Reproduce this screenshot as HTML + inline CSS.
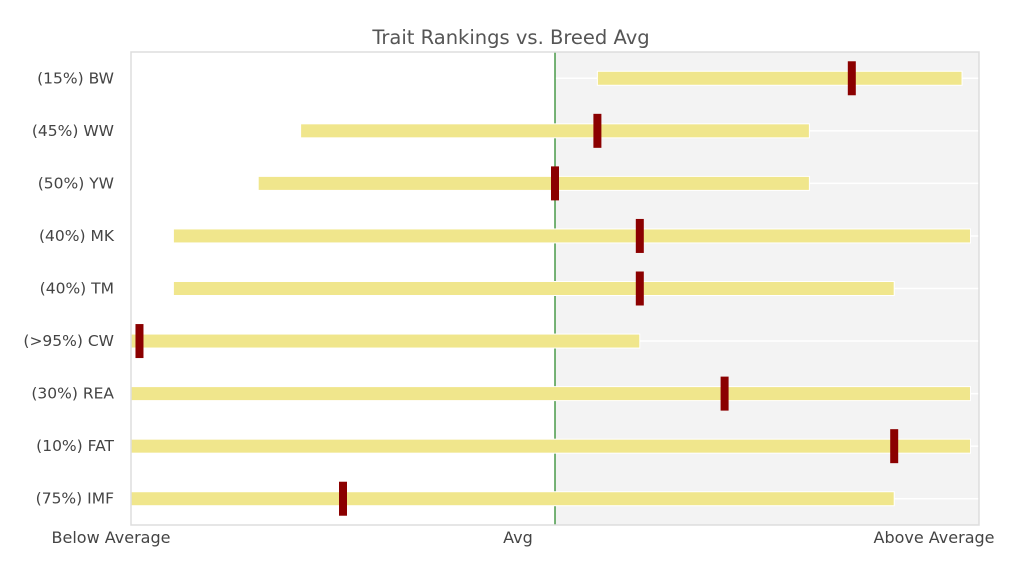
<!DOCTYPE html>
<html><head><meta charset="utf-8"><style>
body{margin:0;background:#fff;font-family:"DejaVu Sans","Liberation Sans",sans-serif;}
svg text{fill:#444;}
</style></head><body>
<svg width="1024" height="576" id="c">
<text x="511" y="44" font-size="19.5" text-anchor="middle" style="fill:#555">Trait Rankings vs. Breed Avg</text>
<rect x="131" y="52" width="424" height="473" fill="#fff"/>
<rect x="555" y="52" width="424" height="473" fill="#f3f3f3"/>
<g id="grid"></g>
<line x1="555" y1="52" x2="555" y2="525" stroke="#2e8b2e" stroke-width="1.3"/>
<g id="marks"></g>
<rect x="131" y="52" width="848" height="473" fill="none" stroke="#ddd" stroke-width="1.5"/>
<text x="111" y="543" font-size="16" text-anchor="middle">Below Average</text>
<text x="518" y="543" font-size="16" text-anchor="middle">Avg</text>
<text x="934" y="543" font-size="16" text-anchor="middle">Above Average</text>
</svg>
<script>
const categories=["(15%) BW","(45%) WW","(50%) YW","(40%) MK","(40%) TM","(>95%) CW","(30%) REA","(10%) FAT","(75%) IMF"];
const rangeLow=[55,20,15,5,5,0,0,0,0];
const rangeHigh=[98,80,80,99,90,60,99,99,90];
const markers=[85,55,50,60,60,1,70,90,25];
const NS="http://www.w3.org/2000/svg";
const x0=131,x1=979,y0=52,y1=525;
const xs=v=>x0+(v/100)*(x1-x0);
const band=(y1-y0)/categories.length;
const ys=i=>y0+band*(i+0.5);
const svg=document.getElementById('c'),g=document.getElementById('grid'),m=document.getElementById('marks');
function mk(t,a,p){const e=document.createElementNS(NS,t);for(const k in a)e.setAttribute(k,a[k]);p.appendChild(e);return e;}
categories.forEach((c,i)=>{
 const y=ys(i);
 const gl=mk('line',{x1:x0,x2:x1,y1:y,y2:y,stroke:'#fff','stroke-width':1.5},g);
 
 
 const b=mk('rect',{x:xs(rangeLow[i]),y:y-7,width:xs(rangeHigh[i])-xs(rangeLow[i]),height:14,fill:'#f0e68c',stroke:'#fff','stroke-width':1},m);
 
 
 const r=mk('rect',{x:xs(markers[i])-4,y:y-17,width:8,height:34,fill:'#8b0000'},m);
 
 
 const t=mk('text',{x:114,y:y+5,'font-size':15.5,'text-anchor':'end'},svg);
 t.textContent=c;
 
 
});
</script>
</body></html>
